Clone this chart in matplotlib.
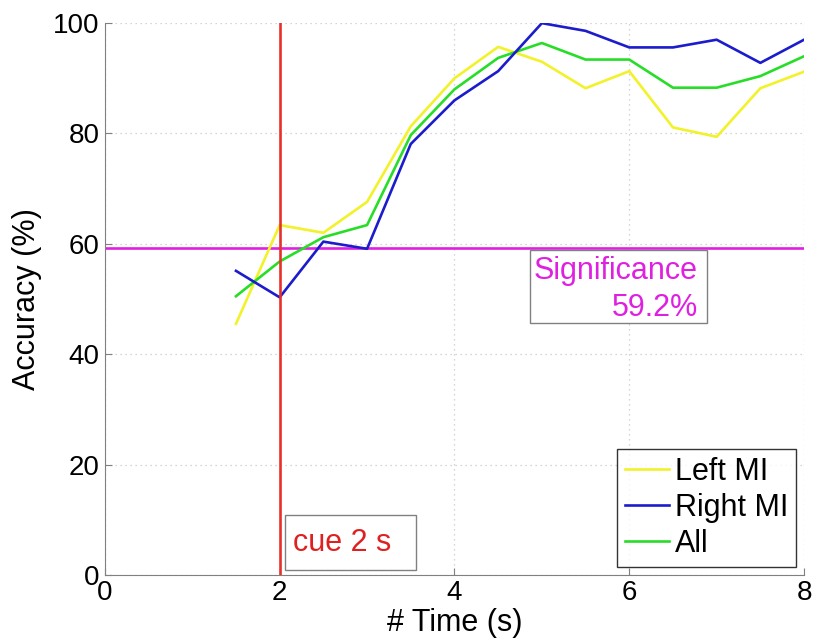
import matplotlib
matplotlib.use("Agg")
import matplotlib.pyplot as plt
from matplotlib.patches import Rectangle

time_s = [1.5, 2.0, 2.5, 3.0, 3.5, 4.0, 4.5, 5.0, 5.5, 6.0, 6.5, 7.0, 7.5, 8.0]
left_mi = [45.5, 63.4, 62.0, 67.6, 81.3, 90.0, 95.7, 93.0, 88.2, 91.3, 81.1, 79.4, 88.2, 91.2]
right_mi = [55.1, 50.3, 60.4, 59.1, 78.1, 86.0, 91.3, 100.0, 98.6, 95.6, 95.6, 97.0, 92.8, 97.0]
all_mi = [50.5, 56.8, 61.2, 63.4, 79.7, 88.0, 93.7, 96.4, 93.4, 93.4, 88.3, 88.3, 90.4, 94.0]
significance = 59.2
cue_time = 2
x_ticks = [0, 2, 4, 6, 8]
y_ticks = [0, 20, 40, 60, 80, 100]

plt.rcParams['font.family'] = ['Liberation Sans', 'DejaVu Sans']

fig = plt.figure(figsize=(8.13, 6.43), dpi=100)
ax = fig.add_axes([0.129, 0.106, 0.860, 0.858])

ax.plot(time_s, left_mi, color='#f2f22a', lw=1.9, label='Left MI', zorder=3)
ax.plot(time_s, right_mi, color='#1c1ccc', lw=1.9, label='Right MI', zorder=4)
ax.plot(time_s, all_mi, color='#28dd28', lw=1.9, label='All', zorder=3)
ax.axhline(significance, color='#e020e0', lw=1.9, zorder=2)
ax.axvline(cue_time, color='#e8302a', lw=1.9, zorder=5)

ax.set_xlim(0, 8)
ax.set_ylim(0, 100)
ax.set_xticks(x_ticks)
ax.set_yticks(y_ticks)
ax.grid(True, linestyle=(0, (1, 3)), color='#c8c8c8', lw=0.9)
for s in ['top', 'right']:
    ax.spines[s].set_visible(False)
for s in ['left', 'bottom']:
    ax.spines[s].set_color('#808080')
ax.tick_params(direction='in', length=5, color='#808080', labelsize=20, pad=4)
ax.set_xlabel('# Time (s)', fontsize=22, labelpad=1)
ax.set_ylabel('Accuracy (%)', fontsize=22, labelpad=8)

# Significance annotation box
ax.add_patch(Rectangle((4.86, 45.7), 2.03, 13.2, fc='white', ec='#808080', lw=1.0, zorder=6))
ax.text(6.785, 53.6, 'Significance', color='#e020e0', fontsize=22,
        ha='right', va='baseline', zorder=7)
ax.text(6.785, 46.9, '59.2%', color='#e020e0', fontsize=22,
        ha='right', va='baseline', zorder=7)

# Cue annotation box
ax.add_patch(Rectangle((2.06, 0.9), 1.50, 10.0, fc='white', ec='#808080', lw=1.0, zorder=6))
ax.text(2.15, 4.4, 'cue 2 s', color='#e02020', fontsize=22,
        ha='left', va='baseline', zorder=7)

leg = ax.legend(loc='lower right', fontsize=22, frameon=True, fancybox=False,
                edgecolor='black', handlelength=1.44, handletextpad=0.2,
                borderpad=0.25, labelspacing=0.2, borderaxespad=0.27)
leg.get_frame().set_linewidth(1.0)
leg.set_zorder(8)

fig.savefig('out.png', dpi=100)
